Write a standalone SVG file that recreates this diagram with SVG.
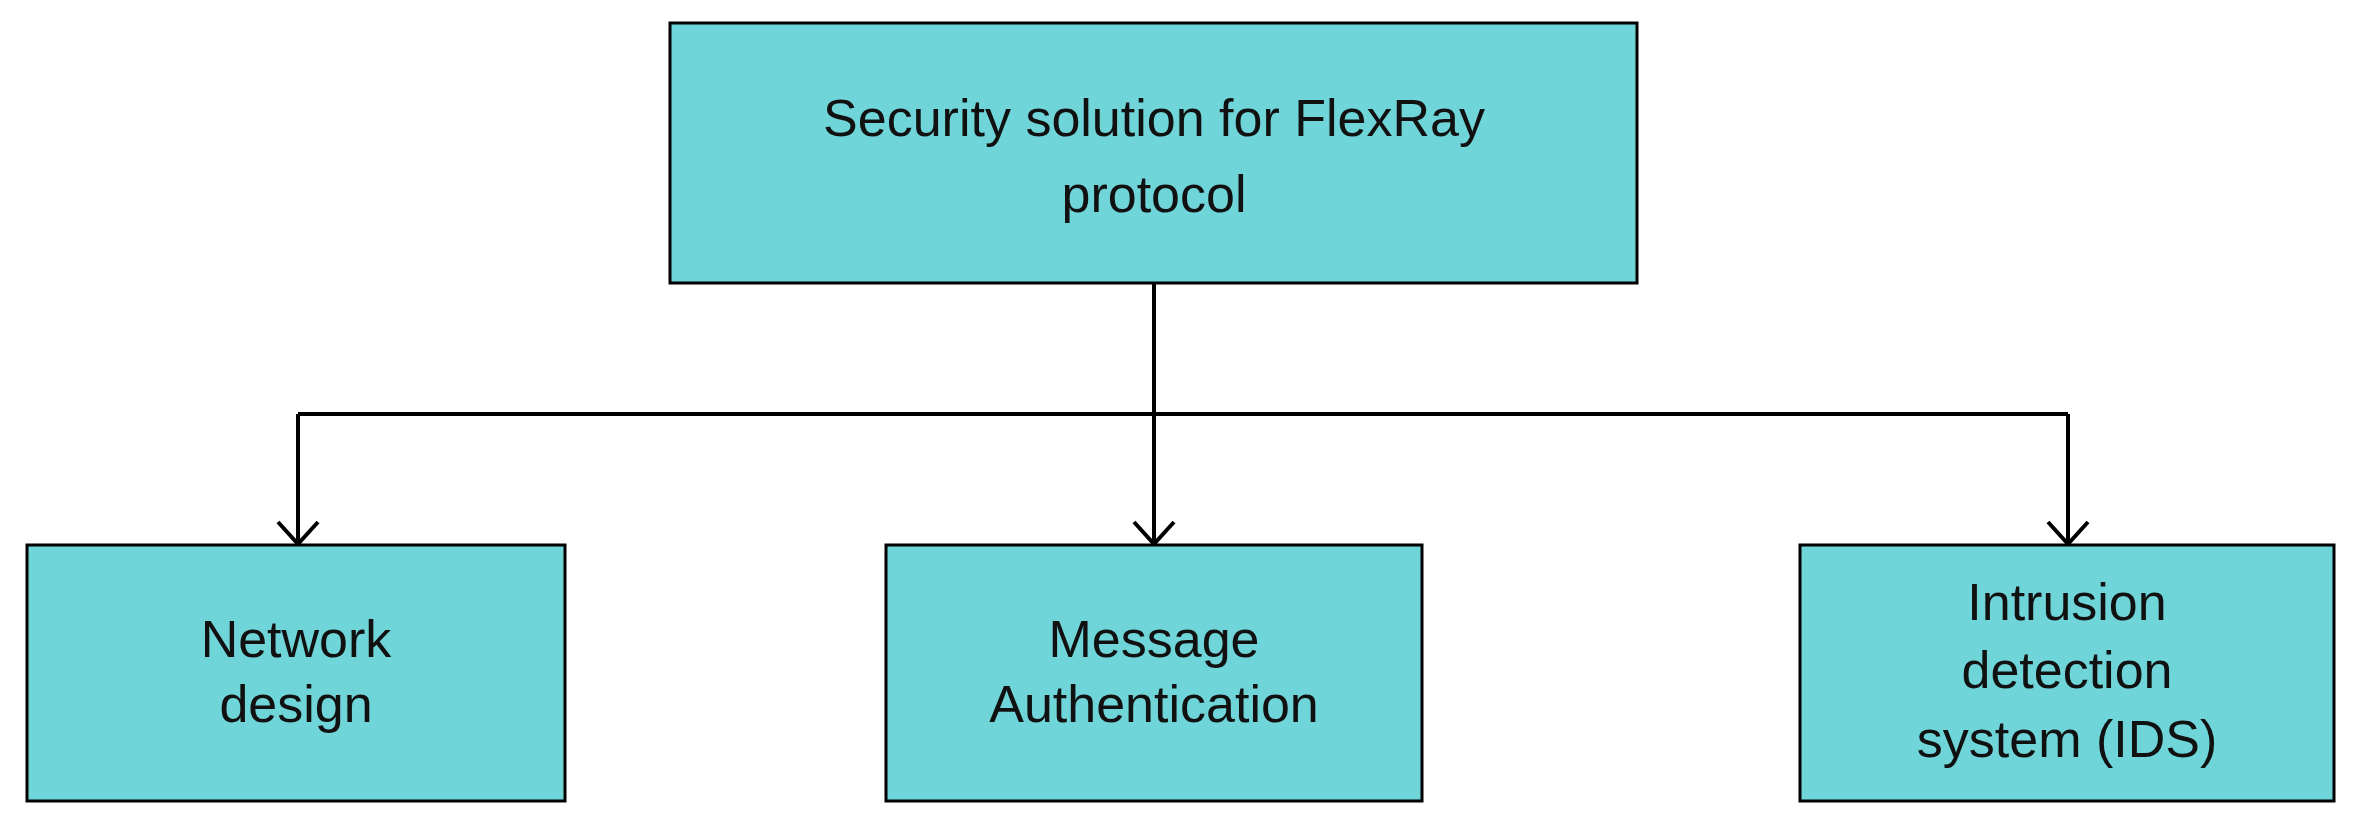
<svg xmlns="http://www.w3.org/2000/svg" width="2362" height="830" viewBox="0 0 2362 830">
<style>
.box{fill:#6fd5d9;stroke:#000;stroke-width:3}
text{font-family:"Liberation Sans",Arial,sans-serif;font-size:52px;fill:#111;text-anchor:middle}
.c{fill:none;stroke:#000;stroke-width:4}
</style>
<defs><marker id="a" viewBox="0 0 20 20" refX="18" refY="10" markerWidth="9" markerHeight="9" markerUnits="userSpaceOnUse" orient="auto" overflow="visible"><path d="M-14,-8 L18,10 L-14,28" fill="none" stroke="#000" stroke-width="3.5"/></marker></defs>
<rect width="2362" height="830" fill="#fff"/>
<g id="connectors">
<path class="c" d="M1154,283 V545"/>
<path class="c" d="M298,414 H2068"/>
<path class="c" d="M298,414 V543"/>
<path class="c" d="M2068,414 V543"/>
<path d="M278,522 L298,544 L318,522 M1134,522 L1154,544 L1174,522 M2048,522 L2068,544 L2088,522" fill="none" stroke="#000" stroke-width="4"/>
</g>
<g id="top"><rect class="box" x="670" y="23" width="967" height="260"/><text x="1154" y="136">Security solution for FlexRay</text><text x="1154" y="212">protocol</text></g>
<g id="n1"><rect class="box" x="27" y="545" width="538" height="256"/><text x="296" y="657">Network</text><text x="296" y="722">design</text></g>
<g id="n2"><rect class="box" x="886" y="545" width="536" height="256"/><text x="1154" y="657">Message</text><text x="1154" y="722">Authentication</text></g>
<g id="n3"><rect class="box" x="1800" y="545" width="534" height="256"/><text x="2067" y="620">Intrusion</text><text x="2067" y="688">detection</text><text x="2067" y="757">system (IDS)</text></g>
</svg>
